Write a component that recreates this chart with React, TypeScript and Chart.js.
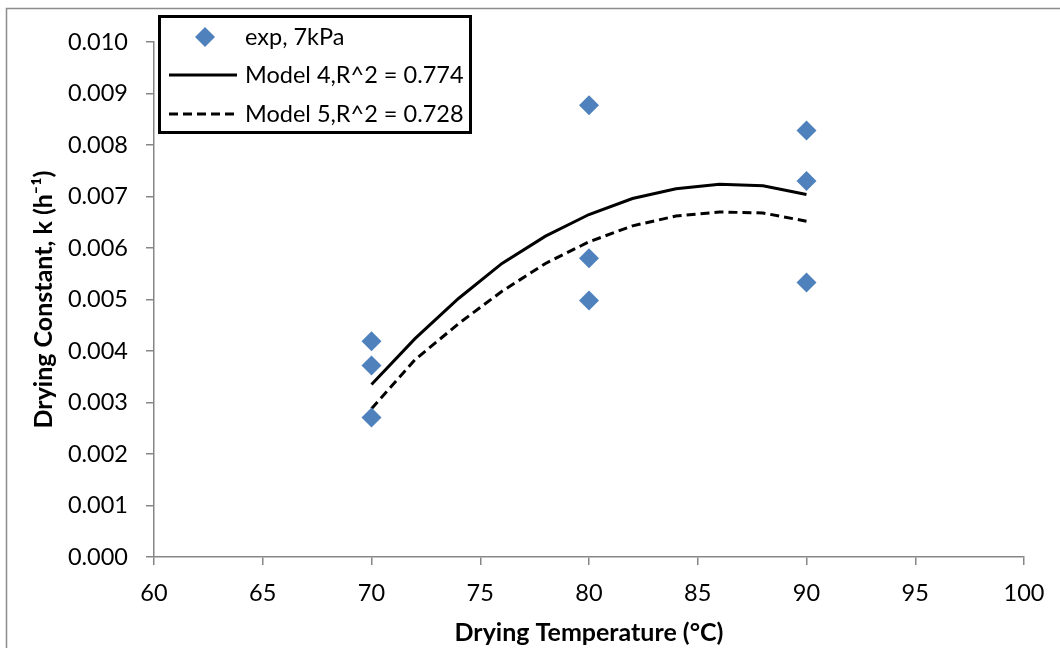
import React, { useEffect, useRef } from 'react';
import { Chart, registerables } from 'chart.js';

Chart.register(...registerables);

const tempExp = [70, 70, 70, 80, 80, 80, 90, 90, 90];
const kExp = [0.00419, 0.00372, 0.00271, 0.00877, 0.0058, 0.00498, 0.00828, 0.0073, 0.00533];
const tempModel = [70, 72, 74, 76, 78, 80, 82, 84, 86, 88, 90];
const kModel4 = [0.00335, 0.00424, 0.00502, 0.0057, 0.00623, 0.00665, 0.00696, 0.00715, 0.00724, 0.00721, 0.00704];
const kModel5 = [0.00288, 0.00383, 0.00453, 0.00516, 0.0057, 0.00612, 0.00643, 0.00662, 0.0067, 0.00668, 0.00652];
const seriesLabels = ['exp, 7kPa', 'Model 4,R^2 = 0.774', 'Model 5,R^2 = 0.728'];
const xTitle = 'Drying Temperature (°C)';
const yTitle = 'Drying Constant, k (h⁻¹)';

const FONT = 'Lato, "Open Sans", sans-serif';
const BLUE = '#4F81BD';
const AXIS = '#868686';

const framePlugin = {
  id: 'frame',
  beforeDraw(chart: any) {
    const ctx = chart.ctx;
    ctx.save();
    ctx.fillStyle = '#fff';
    ctx.fillRect(0, 0, chart.width, chart.height);
    ctx.strokeStyle = '#8c8c8c';
    ctx.lineWidth = 1.5;
    ctx.beginPath();
    ctx.moveTo(6.5, 700);
    ctx.lineTo(6.5, 8.5);
    ctx.lineTo(1100, 8.5);
    ctx.stroke();
    ctx.restore();
  },
};

const legendPlugin = {
  id: 'boxLegend',
  afterDraw(chart: any) {
    const ctx = chart.ctx;
    const x0 = 158, y0 = 15, w = 314, h = 119;
    ctx.save();
    ctx.fillStyle = '#fff';
    ctx.fillRect(x0, y0, w, h);
    ctx.lineWidth = 3;
    ctx.strokeStyle = '#000';
    ctx.strokeRect(x0 + 1.5, y0 + 1.5, w - 3, h - 3);
    const rows = [37, 75, 114];
    ctx.font = `23.5px ${FONT}`;
    ctx.textBaseline = 'middle';
    ctx.textAlign = 'left';
    chart.data.datasets.forEach((d: any, i: number) => {
      const cy = rows[i];
      if (d.showLine === false) {
        ctx.fillStyle = BLUE;
        ctx.beginPath();
        ctx.moveTo(205, cy - 10);
        ctx.lineTo(215, cy);
        ctx.lineTo(205, cy + 10);
        ctx.lineTo(195, cy);
        ctx.closePath();
        ctx.fill();
      } else {
        ctx.strokeStyle = '#000';
        ctx.lineWidth = 3;
        ctx.setLineDash(d.borderDash || []);
        ctx.beginPath();
        ctx.moveTo(169, cy);
        ctx.lineTo(237, cy);
        ctx.stroke();
        ctx.setLineDash([]);
      }
      ctx.fillStyle = '#000';
      ctx.fillText(d.label, 245, cy);
    });
    ctx.restore();
  },
};

export default function App() {
  const ref = useRef<HTMLCanvasElement>(null);
  useEffect(() => {
    if (!ref.current) return;
    const chart = new Chart(ref.current, {
      type: 'scatter',
      data: {
        datasets: [
          {
            label: seriesLabels[0],
            data: tempExp.map((x, i) => ({ x, y: kExp[i] })),
            showLine: false,
            pointStyle: 'rectRot',
            pointRadius: 10,
            backgroundColor: BLUE,
            borderColor: BLUE,
            borderWidth: 0,
            order: 0,
          },
          {
            label: seriesLabels[1],
            data: tempModel.map((x, i) => ({ x, y: kModel4[i] })),
            showLine: true,
            pointRadius: 0,
            borderColor: '#000',
            borderWidth: 3,
            tension: 0,
            order: 1,
          },
          {
            label: seriesLabels[2],
            data: tempModel.map((x, i) => ({ x, y: kModel5[i] })),
            showLine: true,
            pointRadius: 0,
            borderColor: '#000',
            borderWidth: 3,
            borderDash: [9, 5],
            tension: 0,
            order: 2,
          },
        ],
      },
      options: {
        responsive: false,
        animation: false,
        layout: { padding: { left: 0, top: 42, right: 36, bottom: 0 } },
        plugins: { legend: { display: false }, tooltip: { enabled: false } },
        scales: {
          x: {
            type: 'linear',
            min: 60,
            max: 100,
            afterFit(scale: any) { scale.height = 648 - 557; },
            ticks: { stepSize: 5, color: '#000', font: { family: FONT, size: 23.5 }, padding: 14 },
            grid: { display: true, drawOnChartArea: false, drawTicks: true, tickLength: 8, color: AXIS, lineWidth: 1.5 },
            border: { color: AXIS, width: 1.5 },
            title: { display: true, text: xTitle, color: '#000', font: { family: FONT, size: 25, weight: 'bold' }, padding: { top: 0, bottom: 0 } },
          },
          y: {
            type: 'linear',
            min: 0,
            max: 0.01,
            afterFit(scale: any) { scale.width = 154; },
            ticks: { stepSize: 0.001, color: '#000', font: { family: FONT, size: 23.5 }, padding: 18, callback: (v: any) => Number(v).toFixed(3) },
            grid: { display: true, drawOnChartArea: false, drawTicks: true, tickLength: 8, color: AXIS, lineWidth: 1.5 },
            border: { color: AXIS, width: 1.5 },
            title: { display: true, text: yTitle, color: '#000', font: { family: FONT, size: 25, weight: 'bold' }, padding: { top: 29, bottom: 0 } },
          },
        },
      },
      plugins: [framePlugin, legendPlugin],
    } as any);
    return () => chart.destroy();
  }, []);
  return (
    <div style={{ position: 'fixed', left: 0, top: 0, width: 1060, height: 648, background: '#fff' }}>
      <canvas ref={ref} width={1060} height={648} style={{ display: 'block' }} />
    </div>
  );
}
